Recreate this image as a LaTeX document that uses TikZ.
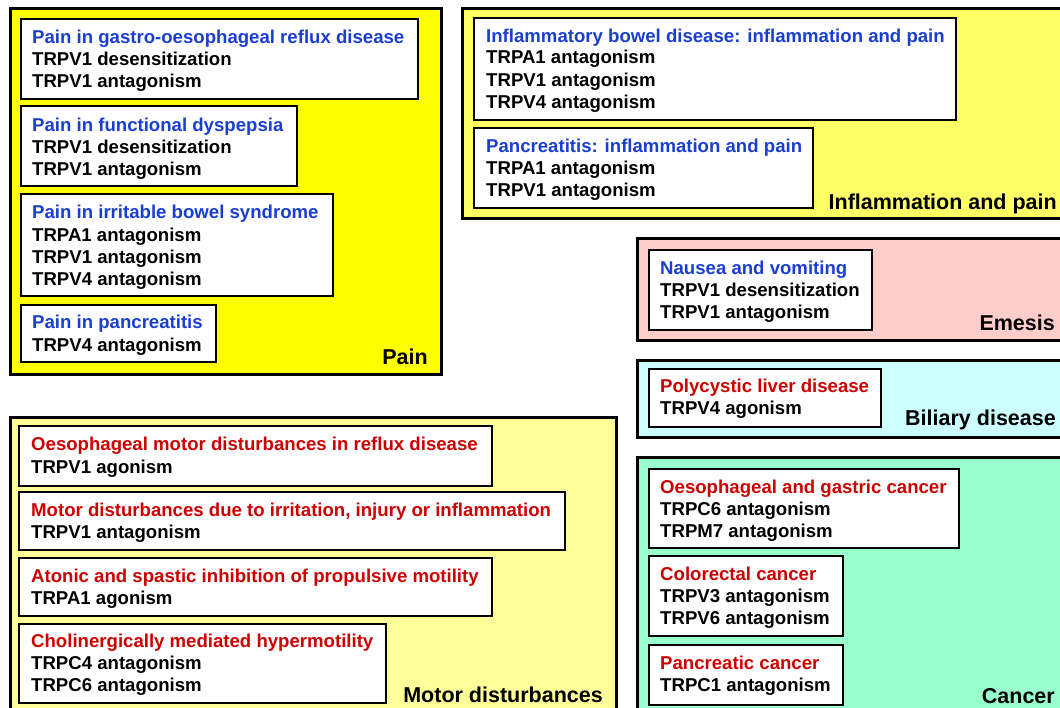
\documentclass[tikz,border=0pt]{standalone}
\usepackage{fontspec}
\setmainfont{Liberation Sans}
\definecolor{painY}{HTML}{FFFF00}
\definecolor{inflY}{HTML}{FFFF66}
\definecolor{motorY}{HTML}{FFFF99}
\definecolor{emesisP}{HTML}{FFCCCC}
\definecolor{biliC}{HTML}{CCFFFF}
\definecolor{cancerG}{HTML}{99FFCC}
\definecolor{ttlBlue}{HTML}{1A3FD0}
\definecolor{ttlRed}{HTML}{CC0000}
\tikzset{
  panel/.style={draw=black, line width=3pt, anchor=north west, inner sep=0, outer sep=0},
  entry/.style={draw=black, fill=white, line width=1.4pt, anchor=north west, inner sep=0, outer sep=0},
  tx/.style={anchor=base west, inner sep=0, font=\bfseries\fontsize{18.6}{22}\selectfont},
  bt/.style={tx, text=ttlBlue},
  rt/.style={tx, text=ttlRed},
  kt/.style={tx, text=black},
  lab/.style={anchor=base east, inner sep=0, font=\bfseries\fontsize{21.5}{24}\selectfont}
}
\begin{document}
\begin{tikzpicture}[x=1pt, y=-1pt]
\useasboundingbox (0,0) rectangle (1060,707);
\clip (0,0) rectangle (1060,707);
% panels
\node[panel, fill=painY, minimum width=431pt, minimum height=366pt] (pain) at (10,8) {};
\node[panel, fill=inflY, minimum width=620pt, minimum height=210pt] (infl) at (462,8) {};
\node[panel, fill=emesisP, minimum width=440pt, minimum height=102pt] (emes) at (637,238) {};
\node[panel, fill=biliC, minimum width=440pt, minimum height=77pt] (bili) at (637,360) {};
\node[panel, fill=cancerG, minimum width=440pt, minimum height=270pt] (canc) at (637,457) {};
\node[panel, fill=motorY, minimum width=606pt, minimum height=300pt] (motor) at (10,417) {};
% panel labels
\node[lab] (painL) at (428,364) {Pain};
\node[lab] (inflL) at (1057,209) {Inflammation and pain};
\node[lab] (emesL) at (1055,330) {Emesis};
\node[lab] (biliL) at (1056,425) {Biliary disease};
\node[lab] (cancL) at (1055,703) {Cancer};
\node[lab] (motorL) at (603,702) {Motor disturbances};
% Pain entries
\node[entry, minimum width=397pt, minimum height=80pt] (p1) at (21,19) {};
\node[bt] (p1a) at (32,43) {Pain in gastro-oesophageal reflux disease};
\node[kt] (p1b) at (32,65) {TRPV1 desensitization};
\node[kt] (p1c) at (32,87) {TRPV1 antagonism};
\node[entry, minimum width=276pt, minimum height=80pt] (p2) at (21,106) {};
\node[bt] (p2a) at (32,131) {Pain in functional dyspepsia};
\node[kt] (p2b) at (32,153) {TRPV1 desensitization};
\node[kt] (p2c) at (32,175) {TRPV1 antagonism};
\node[entry, minimum width=312pt, minimum height=102pt] (p3) at (21,194) {};
\node[bt] (p3a) at (32,218) {Pain in irritable bowel syndrome};
\node[kt] (p3b) at (32,241) {TRPA1 antagonism};
\node[kt] (p3c) at (32,263) {TRPV1 antagonism};
\node[kt] (p3d) at (32,285) {TRPV4 antagonism};
\node[entry, minimum width=195pt, minimum height=57pt] (p4) at (21,305) {};
\node[bt] (p4a) at (32,328) {Pain in pancreatitis};
\node[kt] (p4b) at (32,351) {TRPV4 antagonism};
% Inflammation entries
\node[entry, minimum width=482pt, minimum height=102pt] (i1) at (474,18) {};
\node[bt] (i1a) at (486,42) {Inflammatory bowel disease: inflammation and pain};
\node[kt] (i1b) at (486,63) {TRPA1 antagonism};
\node[kt] (i1c) at (486,86) {TRPV1 antagonism};
\node[kt] (i1d) at (486,108) {TRPV4 antagonism};
\node[entry, minimum width=339pt, minimum height=80pt] (i2) at (474,128) {};
\node[bt] (i2a) at (486,152) {Pancreatitis: inflammation and pain};
\node[kt] (i2b) at (486,174) {TRPA1 antagonism};
\node[kt] (i2c) at (486,196) {TRPV1 antagonism};
% Emesis
\node[entry, minimum width=223pt, minimum height=80pt] (e1) at (649,250) {};
\node[bt] (e1a) at (660,274) {Nausea and vomiting};
\node[kt] (e1b) at (660,296) {TRPV1 desensitization};
\node[kt] (e1c) at (660,318) {TRPV1 antagonism};
% Biliary
\node[entry, minimum width=232pt, minimum height=58pt] (b1) at (649,369) {};
\node[rt] (b1a) at (660,392) {Polycystic liver disease};
\node[kt] (b1b) at (660,414) {TRPV4 agonism};
% Cancer
\node[entry, minimum width=310pt, minimum height=79pt] (c1) at (649,469) {};
\node[rt] (c1a) at (660,493) {Oesophageal and gastric cancer};
\node[kt] (c1b) at (660,515) {TRPC6 antagonism};
\node[kt] (c1c) at (660,537) {TRPM7 antagonism};
\node[entry, minimum width=194pt, minimum height=80pt] (c2) at (649,556) {};
\node[rt] (c2a) at (660,580) {Colorectal cancer};
\node[kt] (c2b) at (660,602) {TRPV3 antagonism};
\node[kt] (c2c) at (660,624) {TRPV6 antagonism};
\node[entry, minimum width=194pt, minimum height=60pt] (c3) at (649,645) {};
\node[rt] (c3a) at (660,669) {Pancreatic cancer};
\node[kt] (c3b) at (660,691) {TRPC1 antagonism};
% Motor
\node[entry, minimum width=473pt, minimum height=60pt] (m1) at (19,426) {};
\node[rt] (m1a) at (31,450) {Oesophageal motor disturbances in reflux disease};
\node[kt] (m1b) at (31,473) {TRPV1 agonism};
\node[entry, minimum width=546pt, minimum height=58pt] (m2) at (19,492) {};
\node[rt] (m2a) at (31,516) {Motor disturbances due to irritation, injury or inflammation};
\node[kt] (m2b) at (31,538) {TRPV1 antagonism};
\node[entry, minimum width=473pt, minimum height=58pt] (m3) at (19,558) {};
\node[rt] (m3a) at (31,582) {Atonic and spastic inhibition of propulsive motility};
\node[kt] (m3b) at (31,604) {TRPA1 agonism};
\node[entry, minimum width=367pt, minimum height=79pt] (m4) at (19,624) {};
\node[rt] (m4a) at (31,647) {Cholinergically mediated hypermotility};
\node[kt] (m4b) at (31,669) {TRPC4 antagonism};
\node[kt] (m4c) at (31,691) {TRPC6 antagonism};
\end{tikzpicture}
\end{document}
